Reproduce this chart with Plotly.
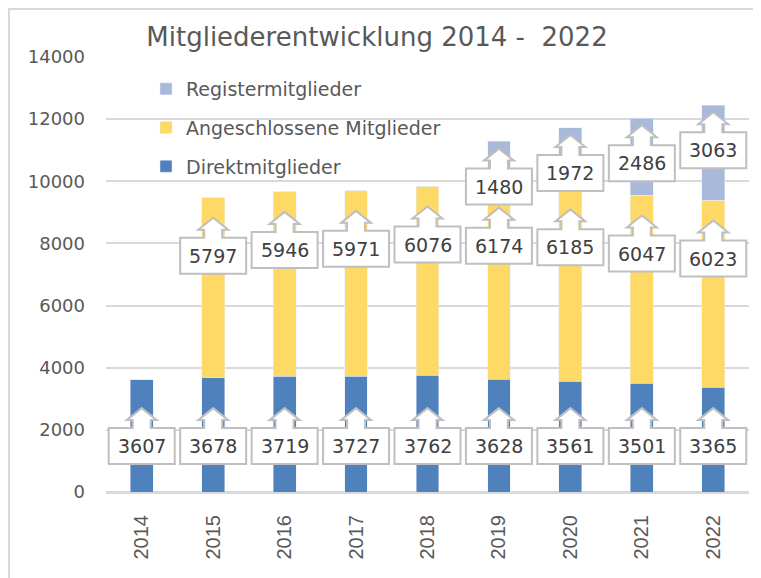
import plotly.graph_objects as go

years = ["2014", "2015", "2016", "2017", "2018", "2019", "2020", "2021", "2022"]
direkt = [3607, 3678, 3719, 3727, 3762, 3628, 3561, 3501, 3365]
angeschlossen = [None, 5797, 5946, 5971, 6076, 6174, 6185, 6047, 6023]
register = [None, None, None, None, None, 1480, 1972, 2486, 3063]

FONT = "DejaVu Sans"
C_DIR = "#4F81BD"
C_ANG = "#FFD966"
C_REG = "#A9B9DA"
GRID = "#D9D9D9"

# page body has an 8px margin; size the figure to fill the rest of the window
W, H = 753, 570
L, R, T, B = 98, 12, 49, 86
PW = W - L - R
PH = H - T - B

xs = list(range(len(years)))
fig = go.Figure()
fig.add_bar(x=xs, y=direkt, name="Direktmitglieder", marker_color=C_DIR,
            legendgroup="a", legendrank=3, width=0.32)
fig.add_bar(x=xs, y=[v if v else 0 for v in angeschlossen], name="Angeschlossene Mitglieder",
            marker_color=C_ANG, legendgroup="b", legendrank=2, width=0.32)
fig.add_bar(x=xs, y=[v if v else 0 for v in register], name="Registermitglieder",
            marker_color=C_REG, legendgroup="c", legendrank=1, width=0.32)

# callout outline (pixels, tip at 0,0, y up)
callout = ("M0,0 L15,-12 L9,-12 L9,-20 L33,-20 L33,-56 L-33,-56 L-33,-20 "
           "L-9,-20 L-9,-12 L-15,-12 Z")

shapes = []
annotations = []

def add_callout(i, tip, val):
    shapes.append(dict(type="path", xref="x", yref="y", xsizemode="pixel", ysizemode="pixel",
                       xanchor=i, yanchor=tip, path=callout, fillcolor="white",
                       line=dict(color="#BFBFBF", width=2), layer="above"))
    annotations.append(dict(x=i, y=tip, xref="x", yref="y", text=str(val), showarrow=False,
                            yshift=-38, font=dict(family=FONT, size=19, color="#404040")))

DIR_TIP = 2700
for i in xs:
    add_callout(i, DIR_TIP, direkt[i])
for i in xs:
    if angeschlossen[i]:
        top = direkt[i] + angeschlossen[i]
        add_callout(i, top - 650, angeschlossen[i])
for i in xs:
    if register[i]:
        top = direkt[i] + angeschlossen[i] + register[i]
        add_callout(i, top - 230, register[i])

def px2x(p):
    return (p - L) / PW
def py2y(p):
    return 1 - (p - T) / PH

# chart border (top and left edges visible)
shapes.append(dict(type="line", xref="paper", yref="paper", x0=px2x(0), x1=px2x(W),
                   y0=py2y(1), y1=py2y(1), line=dict(color="#D9D9D9", width=2), layer="below"))
shapes.append(dict(type="line", xref="paper", yref="paper", x0=px2x(1), x1=px2x(1),
                   y0=py2y(0), y1=py2y(H), line=dict(color="#D9D9D9", width=2), layer="below"))

fig.update_layout(
    width=W, height=H,
    margin=dict(l=L, r=R, t=T, b=B),
    paper_bgcolor="white", plot_bgcolor="white",
    barmode="stack",
    font=dict(family=FONT, size=19, color="#595959"),
    title=dict(text="Mitgliederentwicklung 2014 -  2022", x=369 / W, xref="container",
               xanchor="center", y=1 - 29 / H, yref="container", yanchor="middle",
               font=dict(family=FONT, size=26, color="#595959")),
    legend=dict(x=px2x(138), y=py2y(62), xanchor="left", yanchor="top",
                traceorder="grouped", tracegroupgap=11, bgcolor="rgba(0,0,0,0)",
                font=dict(family=FONT, size=19, color="#595959")),
    shapes=shapes, annotations=annotations,
)
fig.update_xaxes(range=[-0.5, 8.5], tickvals=xs, ticktext=years, tickangle=-90,
                 showgrid=False, showline=True, linecolor=GRID, linewidth=2,
                 ticks="", ticklabelstandoff=13,
                 tickfont=dict(family="Liberation Sans", size=20, color="#595959"))
fig.update_yaxes(range=[0, 14000], dtick=2000, tickformat="d", showgrid=True,
                 gridcolor=GRID, gridwidth=2,
                 zeroline=True, zerolinecolor=GRID, zerolinewidth=2, showline=False,
                 ticks="", ticklabelstandoff=20,
                 tickfont=dict(family=FONT, size=18, color="#595959"))

fig.write_html("out.html")
